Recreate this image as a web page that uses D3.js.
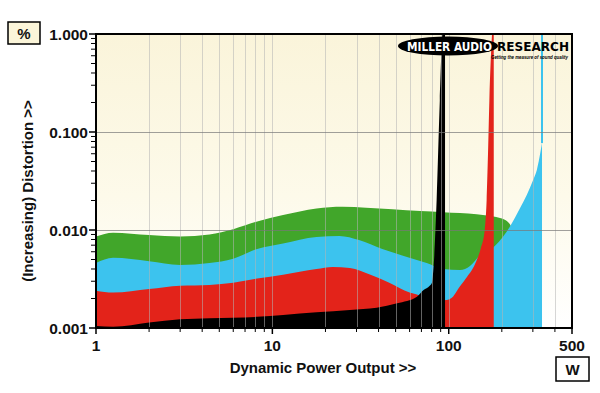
<!DOCTYPE html>
<html>
<head>
<meta charset="utf-8">
<script src="https://cdn.jsdelivr.net/npm/d3@7/dist/d3.min.js"></script>
<style>
  body { margin: 0; background: #fff; }
  text { font-family: "Liberation Sans", Arial, sans-serif; font-weight: bold; }
</style>
</head>
<body>
<script>
// ---- data: [power W, distortion %] ----
var greenSeries = [[1,0.0086],[1.25,0.0094],[2,0.0089],[3,0.0086],[4.4,0.009],[6,0.0102],[8.2,0.0122],[11.5,0.0142],
  [17.8,0.0166],[25,0.0173],[34,0.0169],[48,0.0163],[69,0.0156],[93,0.0152],[144,0.0145],[179,0.0137],[208,0.0127],
  [228,0.0105],[235,0.008]];
var cyanSeries = [[1,0.0046],[1.25,0.0052],[2,0.0048],[3,0.0044],[4.4,0.0046],[6,0.0051],[8.2,0.0064],[11.5,0.0073],
  [17.8,0.0085],[24,0.0087],[31,0.0079],[42,0.0064],[58,0.0053],[75,0.0046],[93,0.0040],[116,0.0039],[132,0.0043],
  [150,0.0055],[183,0.0069],[222,0.0108],[253,0.0166],[277,0.0228],[301,0.0324],[316,0.041],[338,0.077]];
var redSeries = [[1,0.0024],[1.25,0.0023],[2,0.0025],[3,0.0027],[4.4,0.00275],[6,0.0029],[8.2,0.0032],[11.5,0.0035],
  [17.8,0.0040],[22,0.0042],[27.5,0.0041],[36,0.0035],[46,0.0029],[60,0.0023],[66,0.0022],[80,0.0019],[97,0.00193],
  [106,0.0021],[113,0.0025],[125,0.0032],[141,0.0045],[152,0.0065],[160,0.0100],[164,0.020],[167,0.06],[170,0.21],
  [176,1.0],[177,1.2],[180,1.2]];
var blackSeries = [[1,0.00105],[1.25,0.00103],[2,0.00114],[3,0.00123],[4.4,0.00126],[8.2,0.0013],[11.5,0.00136],
  [17.8,0.00145],[27.5,0.00153],[39,0.00161],[51,0.00179],[66,0.00209],[72,0.00244],[78,0.0027],[80.3,0.0029],
  [82.5,0.0049],[85.4,0.0202],[89,0.21],[92,1.0],[93,1.2],[95.3,1.2]];
// thin marker line running up to the top from the cyan limit
var markerLines = [{w: 338, from: 0.077, color: '#3cc3ee'}];

var xTicks = [1, 10, 100, 500];
var yTicks = [1, 0.1, 0.01, 0.001];
var yTickLabels = ['1.000', '0.100', '0.010', '0.001'];

var W = 600, H = 393;
var L = 96, R = 572, T = 34, B = 328;

var svg = d3.select('body').append('svg').attr('width', W).attr('height', H);

var x = d3.scaleLog().domain([1, 500]).range([L, R]);
var y = d3.scaleLog().domain([0.001, 1]).range([B, T]);

// background gradient
var defs = svg.append('defs');
var grad = defs.append('linearGradient').attr('id', 'bg').attr('x1', 0).attr('y1', 0).attr('x2', 0).attr('y2', 1);
grad.append('stop').attr('offset', '0%').attr('stop-color', '#faf4da');
grad.append('stop').attr('offset', '55%').attr('stop-color', '#fdfaea');
grad.append('stop').attr('offset', '100%').attr('stop-color', '#ffffff');
defs.append('clipPath').attr('id', 'plot').append('rect')
  .attr('x', L).attr('y', T).attr('width', R - L).attr('height', B - T);

svg.append('rect').attr('x', L).attr('y', T).attr('width', R - L).attr('height', B - T).attr('fill', 'url(#bg)');

var g = svg.append('g').attr('clip-path', 'url(#plot)');

var area = d3.area()
  .x(function(d) { return x(d[0]); })
  .y0(y(0.001))
  .y1(function(d) { return y(d[1]); })
  .curve(d3.curveMonotoneX);

var layers = [
  {data: greenSeries, color: '#41a62a'},
  {data: cyanSeries, color: '#3cc3ee'},
  {data: redSeries, color: '#e3231a'},
  {data: blackSeries, color: '#000000'}
];
layers.forEach(function(l) {
  g.append('path').datum(l.data).attr('d', area).attr('fill', l.color);
});

markerLines.forEach(function(m) {
  g.append('line').attr('x1', x(m.w)).attr('x2', x(m.w))
    .attr('y1', y(m.from)).attr('y2', T).attr('stroke', m.color).attr('stroke-width', 2);
});

// minor values for grid + ticks
var minorX = [];
[1, 10, 100].forEach(function(dec) {
  for (var k = 2; k <= 9; k++) if (dec * k < 500) minorX.push(dec * k);
});
var minorY = [];
[0.001, 0.01, 0.1].forEach(function(dec) {
  for (var k = 2; k <= 9; k++) minorY.push(dec * k);
});

// vertical grid on top of the fills
g.selectAll('.vgrid').data(minorX.concat([10, 100])).enter().append('line')
  .attr('x1', function(d) { return Math.round(x(d)) + 0.5; })
  .attr('x2', function(d) { return Math.round(x(d)) + 0.5; })
  .attr('y1', T).attr('y2', B)
  .attr('stroke', 'rgba(180,180,180,0.55)').attr('stroke-width', 1);

g.selectAll('.hgrid').data([0.1, 0.01]).enter().append('line')
  .attr('x1', L).attr('x2', R)
  .attr('y1', function(d) { return Math.round(y(d)) + 0.5; })
  .attr('y2', function(d) { return Math.round(y(d)) + 0.5; })
  .attr('stroke', 'rgba(120,120,120,0.7)').attr('stroke-width', 1);

// logo
var logo = svg.append('g');
logo.append('ellipse').attr('cx', 448).attr('cy', 46).attr('rx', 50).attr('ry', 9.5).attr('fill', '#000');
logo.append('text').attr('x', 407).attr('y', 51)
  .attr('fill', '#fff').style('font-size', '12px').style('font-family', '"DejaVu Sans"')
  .attr('textLength', 85).attr('lengthAdjust', 'spacingAndGlyphs').text('MILLER AUDIO');
logo.append('text').attr('x', 497).attr('y', 51)
  .attr('fill', '#000').style('font-size', '12px').style('font-family', '"DejaVu Sans"')
  .attr('textLength', 72).attr('lengthAdjust', 'spacingAndGlyphs').text('RESEARCH');
logo.append('text').attr('x', 491).attr('y', 59)
  .attr('fill', '#000').style('font-size', '5px').style('font-style', 'italic')
  .attr('textLength', 77).attr('lengthAdjust', 'spacingAndGlyphs').text('Getting the measure of sound quality');

// frame
svg.append('rect').attr('x', L).attr('y', T).attr('width', R - L).attr('height', B - T)
  .attr('fill', 'none').attr('stroke', '#000').attr('stroke-width', 2);

// y ticks
svg.selectAll('.ymin').data(minorY).enter().append('line')
  .attr('x1', L - 5).attr('x2', L - 1)
  .attr('y1', function(d) { return y(d); }).attr('y2', function(d) { return y(d); })
  .attr('stroke', '#000').attr('stroke-width', 1);
svg.selectAll('.ymaj').data(yTicks).enter().append('line')
  .attr('x1', L - 7).attr('x2', L - 1)
  .attr('y1', function(d) { return y(d); }).attr('y2', function(d) { return y(d); })
  .attr('stroke', '#000').attr('stroke-width', 1.5);
svg.selectAll('.ylab').data(yTicks).enter().append('text')
  .attr('x', L - 8).attr('y', function(d) { return y(d) + 5.5; })
  .attr('text-anchor', 'end').style('font-size', '15.5px').attr('fill', '#111')
  .text(function(d, i) { return yTickLabels[i]; });

// x ticks
svg.selectAll('.xmin').data(minorX).enter().append('line')
  .attr('x1', function(d) { return x(d); }).attr('x2', function(d) { return x(d); })
  .attr('y1', B + 1).attr('y2', B + 4)
  .attr('stroke', '#000').attr('stroke-width', 1);
svg.selectAll('.xmaj').data(xTicks).enter().append('line')
  .attr('x1', function(d) { return x(d); }).attr('x2', function(d) { return x(d); })
  .attr('y1', B + 1).attr('y2', B + 6)
  .attr('stroke', '#000').attr('stroke-width', 1.5);
svg.selectAll('.xlab').data(xTicks).enter().append('text')
  .attr('x', function(d) { return x(d); }).attr('y', B + 23)
  .attr('text-anchor', 'middle').style('font-size', '15.5px').attr('fill', '#111')
  .text(function(d) { return d; });

// axis titles
svg.append('text').attr('x', 323).attr('y', 373).attr('text-anchor', 'middle')
  .style('font-size', '15px').attr('fill', '#111').text('Dynamic Power Output >>');
svg.append('text').attr('transform', 'translate(33,191) rotate(-90)').attr('text-anchor', 'middle')
  .style('font-size', '15px').attr('fill', '#111').text('(Increasing) Distortion >>');

// unit boxes
svg.append('rect').attr('x', 8).attr('y', 22).attr('width', 32).attr('height', 22)
  .attr('fill', '#fbf5d9').attr('stroke', '#000').attr('stroke-width', 1.5);
svg.append('text').attr('x', 24).attr('y', 39).attr('text-anchor', 'middle')
  .style('font-size', '15px').attr('fill', '#111').text('%');
svg.append('rect').attr('x', 556).attr('y', 357).attr('width', 33).attr('height', 24)
  .attr('fill', '#fff').attr('stroke', '#000').attr('stroke-width', 1.5);
svg.append('text').attr('x', 572.5).attr('y', 375).attr('text-anchor', 'middle')
  .style('font-size', '15px').attr('fill', '#111').text('W');
</script>
</body>
</html>
